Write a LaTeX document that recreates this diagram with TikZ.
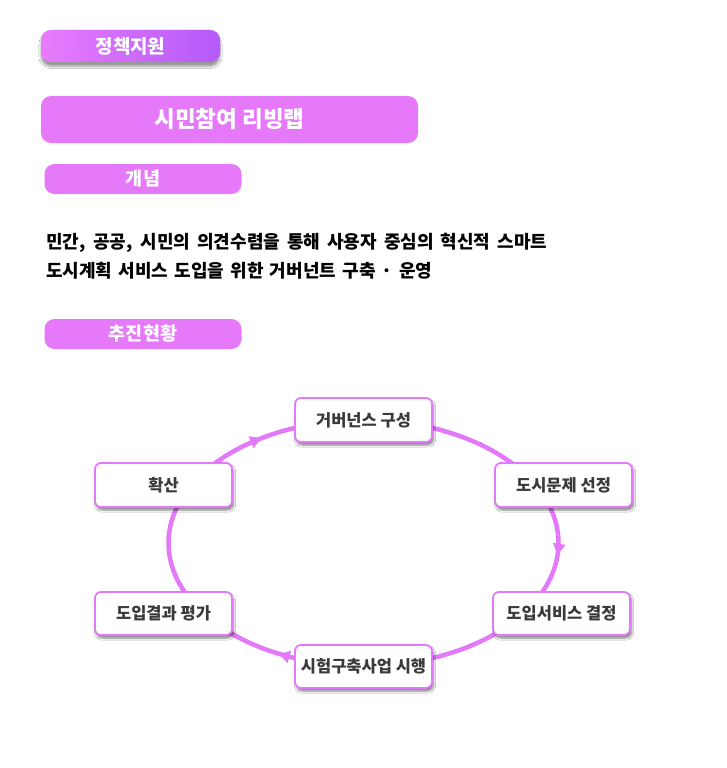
\documentclass[tikz,border=0pt]{standalone}
\usepackage{fontspec}
\setmainfont{Noto Sans CJK KR}
\usetikzlibrary{calc,shadows,shadows.blur,arrows.meta,decorations.markings,backgrounds}
\definecolor{hdr}{RGB}{230,121,250}
\definecolor{hdrL}{RGB}{232,124,251}
\definecolor{hdrR}{RGB}{180,90,250}
\definecolor{ringc}{RGB}{228,120,250}
\definecolor{boxtxt}{RGB}{58,58,58}
\tikzset{
  hdrbox/.style={fill=hdr, rounded corners=10pt, inner sep=0pt, text=white, font=\bfseries\fontsize{18.5pt}{20pt}\selectfont},
  cyclebox/.style={draw=ringc, line width=1.8pt, fill=white, rounded corners=6pt,
     minimum width=137pt, minimum height=43pt, inner sep=0pt, text=boxtxt,
     font=\bfseries\fontsize{16.5pt}{18pt}\selectfont,
     blur shadow={shadow xshift=1.5pt, shadow yshift=-3pt, shadow blur steps=6, shadow opacity=50}},
  ring/.style={draw=ringc, line width=4.5pt},
  ringarrow/.style={ring, postaction={decorate}, decoration={markings, mark=at position #1 with {\arrow[ringc]{Triangle[length=11pt,width=12pt]}}}}
}
\begin{document}
\begin{tikzpicture}[x=1pt,y=-1pt]
\useasboundingbox (0,0) rectangle (727,768);
% headers
\node[hdrbox, left color=hdrL, right color=hdrR, minimum width=179pt, minimum height=32pt,
      font=\bfseries\fontsize{19pt}{20pt}\selectfont,
      blur shadow={shadow xshift=0pt, shadow yshift=-4.5pt, shadow blur steps=8, shadow opacity=40}]
      (policy) at (130.5,46) {정책지원};
\node[hdrbox, minimum width=377pt, minimum height=47pt, font=\bfseries\fontsize{22.5pt}{24pt}\selectfont]
      (title) at (229.5,119.5) {시민참여 리빙랩};
\node[hdrbox, minimum width=197pt, minimum height=30pt] (concept) at (143,179) {개념};
\node[hdrbox, minimum width=197pt, minimum height=30pt] (status) at (143,334) {추진현황};
% description
\node[anchor=west, inner sep=0pt, font=\bfseries\fontsize{18pt}{20pt}\selectfont] (line1) at (46,243)
   {\makebox[501pt][s]{민간, 공공, 시민의 의견수렴을 통해 사용자 중심의 혁신적 스마트}};
\node[anchor=west, inner sep=0pt, font=\bfseries\fontsize{18pt}{20pt}\selectfont] (line2) at (46,271)
   {\makebox[386pt][s]{도시계획 서비스 도입을 위한 거버넌트 구축 · 운영}};
% cycle nodes
\node[cyclebox, minimum height=44pt] (gov) at (363.5,420) {거버넌스 구성};
\node[cyclebox, minimum height=44pt] (issue) at (563.5,485) {도시문제 선정};
\node[cyclebox] (service) at (561.5,613.5) {도입서비스 결정};
\node[cyclebox] (pilot) at (363.5,666.5) {시험구축사업 시행};
\node[cyclebox] (eval) at (163.5,613.5) {도입결과 평가};
\node[cyclebox, minimum height=44pt] (spread) at (163.5,485) {확산};
% ring connectors
\coordinate (c) at (363.5,543);
\coordinate (pGov) at ($(c)+(270:195 and 123)$);
\coordinate (pIssue) at ($(c)+(332:195 and 123)$);
\coordinate (pService) at ($(c)+(35:195 and 123)$);
\coordinate (pPilot) at ($(c)+(90:195 and 123)$);
\coordinate (pEval) at ($(c)+(145:195 and 123)$);
\coordinate (pSpread) at ($(c)+(208:195 and 123)$);
\begin{scope}[on background layer]
  \fill[white] (0,0) rectangle (727,768);
  \draw[ring] (pGov) arc[start angle=270, end angle=332, x radius=195, y radius=123];
  \draw[ringarrow=0.52] (pIssue) arc[start angle=332, end angle=395, x radius=195, y radius=123];
  \draw[ring] (pService) arc[start angle=35, end angle=90, x radius=195, y radius=123];
  \draw[ringarrow=0.5] (pPilot) arc[start angle=90, end angle=145, x radius=195, y radius=123];
  \draw[ring] (pEval) arc[start angle=145, end angle=208, x radius=195, y radius=123];
  \draw[ringarrow=0.45] (pSpread) arc[start angle=208, end angle=270, x radius=195, y radius=123];
\end{scope}
\end{tikzpicture}
\end{document}
